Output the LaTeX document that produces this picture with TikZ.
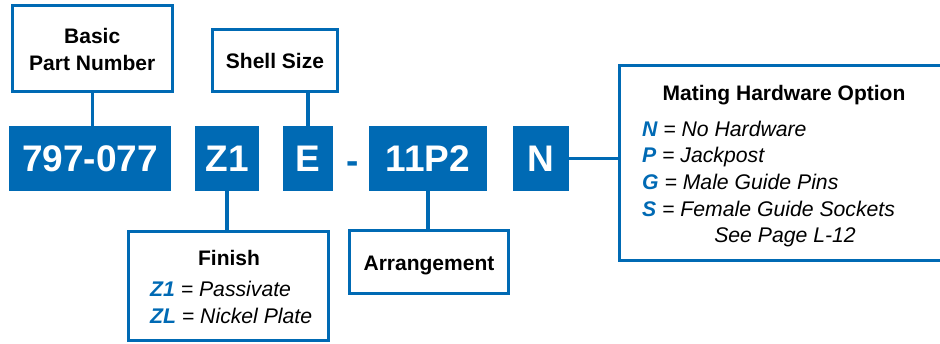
\documentclass[tikz,border=0pt]{standalone}
\usepackage{fontspec}
\setmainfont{Liberation Sans}
\definecolor{pblue}{RGB}{0,106,180}
\begin{document}
\begin{tikzpicture}[x=1pt,y=-1pt,
  codebox/.style={fill=pblue,draw=none,inner sep=0pt,minimum height=65pt,text=white,
    font=\fontsize{37}{40}\selectfont\bfseries},
  labelbox/.style={draw=pblue,line width=3pt,fill=white,inner sep=0pt},
  link/.style={draw=pblue,line width=3.2pt},
  lbl/.style={anchor=base,inner sep=0pt,font=\fontsize{21}{24}\selectfont\bfseries},
  opt/.style={anchor=base west,inner sep=0pt,font=\fontsize{21.2}{24}\selectfont\itshape},
  code/.style={text=pblue,font=\bfseries\itshape}]
\useasboundingbox (0,0) rectangle (940,343);
% code boxes
\node[codebox,minimum width=162pt] (pn) at (90,158.5) {797-077};
\node[codebox,minimum width=64pt] (z1) at (227,158.5) {Z1};
\node[codebox,minimum width=50pt] (e) at (308,158.5) {E};
\node[anchor=base,inner sep=0pt,text=pblue,font=\fontsize{37}{40}\selectfont\bfseries] (dash) at (352.5,173) {-};
\node[codebox,minimum width=118pt] (arr) at (428,158.5) {11P2};
\node[codebox,minimum width=56pt] (n) at (541,158.5) {N};
% label boxes
\node[labelbox,minimum width=160.5pt,minimum height=86pt] (basic) at (92.25,48.5) {};
\node[lbl] (basic1) at (92.25,43) {Basic};
\node[lbl] (basic2) at (92.25,70) {Part Number};
\node[labelbox,minimum width=125pt,minimum height=62pt] (shell) at (275,60) {};
\node[lbl] (shelltxt) at (275,68.3) {Shell Size};
\node[labelbox,minimum width=200pt,minimum height=109pt] (finish) at (228.5,286) {};
\node[lbl] (finishtxt) at (229,265) {Finish};
\node[opt] (fz1) at (150,296.7) {\textcolor{pblue}{\textbf{Z1}} = Passivate};
\node[opt] (fzl) at (150,323.3) {\textcolor{pblue}{\textbf{ZL}} = Nickel Plate};
\node[labelbox,minimum width=159pt,minimum height=63pt] (arrbox) at (429,262) {};
\node[lbl] (arrtxt) at (429,270) {Arrangement};
\node[labelbox,minimum width=325.5pt,minimum height=195pt] (mating) at (782.25,163) {};
\node[lbl] (matingtxt) at (784,100) {Mating Hardware Option};
\node[opt] (mn) at (642,136) {\textcolor{pblue}{\textbf{N}} = No Hardware};
\node[opt] (mp) at (642,162.7) {\textcolor{pblue}{\textbf{P}} = Jackpost};
\node[opt] (mg) at (642,189.3) {\textcolor{pblue}{\textbf{G}} = Male Guide Pins};
\node[opt] (ms) at (642,216) {\textcolor{pblue}{\textbf{S}} = Female Guide Sockets};
\node[opt,anchor=base] (msee) at (785,242.7) {See Page L-12};
% connectors
\draw[link] (basic.south) -- (basic.south |- pn.north);
\draw[link] (e.north) -- (e.north |- shell.south);
\draw[link] (z1.south) -- (z1.south |- finish.north);
\draw[link] (arr.south) -- (arr.south |- arrbox.north);
\draw[link] (n.east) -- (n.east -| mating.west);
\end{tikzpicture}
\end{document}
